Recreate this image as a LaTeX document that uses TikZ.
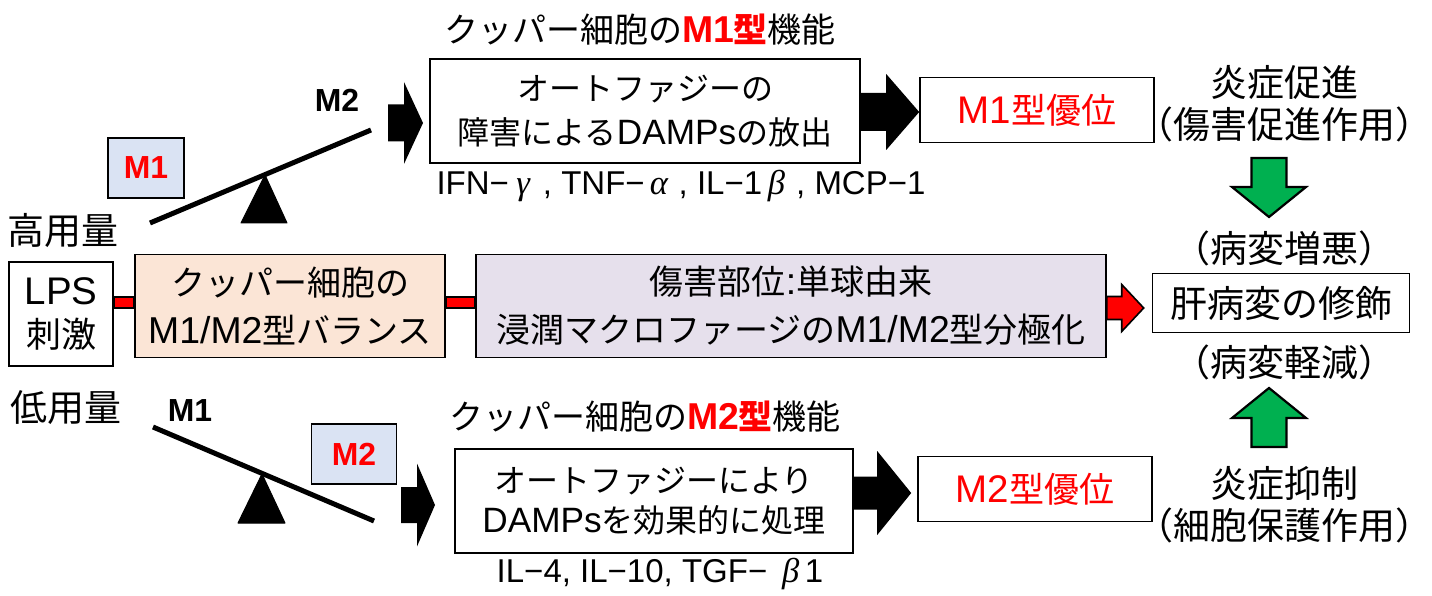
\documentclass[tikz,border=0pt]{standalone}
\usepackage{fontspec}
\setmainfont{Noto Sans CJK JP}
\newfontfamily\lt{Liberation Sans}[Scale=1.1]
\newfontfamily\grk{Liberation Serif}[Scale=1.15]
\usetikzlibrary{calc}
\definecolor{peach}{HTML}{FBE5D6}
\definecolor{lav}{HTML}{E6E0EC}
\definecolor{mfill}{HTML}{DAE3F3}
\definecolor{ogreen}{HTML}{00B050}
\definecolor{ored}{HTML}{FF0000}
% horizontal block arrow: style, from, tip, shaft half, head half, head length
\newcommand\harrow[6]{\path[#1] let \p1=(#2), \p2=(#3) in
  (\x1,\y1+#4pt) -- (\x2-#6pt,\y1+#4pt) -- (\x2-#6pt,\y1+#5pt) -- (\x2,\y1)
  -- (\x2-#6pt,\y1-#5pt) -- (\x2-#6pt,\y1-#4pt) -- (\x1,\y1-#4pt) -- cycle;}
% vertical block arrow pointing down (page)
\newcommand\darrow[6]{\path[#1] let \p1=(#2), \p2=(#3) in
  (\x1-#4pt,\y1) -- (\x1-#4pt,\y2+#6pt) -- (\x1-#5pt,\y2+#6pt) -- (\x1,\y2)
  -- (\x1+#5pt,\y2+#6pt) -- (\x1+#4pt,\y2+#6pt) -- (\x1+#4pt,\y1) -- cycle;}
% vertical block arrow pointing up (page)
\newcommand\uarrow[6]{\path[#1] let \p1=(#2), \p2=(#3) in
  (\x1-#4pt,\y1) -- (\x1-#4pt,\y2-#6pt) -- (\x1-#5pt,\y2-#6pt) -- (\x1,\y2)
  -- (\x1+#5pt,\y2-#6pt) -- (\x1+#4pt,\y2-#6pt) -- (\x1+#4pt,\y1) -- cycle;}
\newcommand\gk[1]{\makebox[0.95em]{\grk\itshape #1}}
\tikzset{
  txt/.style={inner sep=0pt, font=\fontsize{32}{42}\selectfont},
  bigtxt/.style={inner sep=0pt, font=\fontsize{37}{42}\selectfont},
  titletxt/.style={inner sep=0pt, font=\fontsize{34}{42}\selectfont},
  cytotxt/.style={inner sep=0pt, font=\fontsize{30}{36}\selectfont},
  boxed/.style={txt, draw, line width=1.6pt, align=center},
  mlabel/.style={inner sep=0pt, font=\fontsize{29}{36}\selectfont\lt\bfseries},
  mbox/.style={draw, line width=1.6pt, fill=mfill, text=ored, inner sep=0pt,
     font=\fontsize{29}{36}\selectfont\lt\bfseries},
  blackarrow/.style={fill=black},
  redarrow/.style={fill=ored, draw=black, line width=1.6pt, line join=miter},
  greenarrow/.style={fill=ogreen, draw=black, line width=2.2pt, line join=miter},
  redbar/.style={fill=ored, draw=black, line width=2pt},
  beam/.style={line width=5pt},
  fulcrum/.style={fill=black, draw=black, line width=1pt, line join=round},
}
\begin{document}
\begin{tikzpicture}[x=1pt, y=-1pt]
\useasboundingbox (0,0) rectangle (1432,596);
% ---------- top row ----------
\node[titletxt] (title1) at (640,30) {クッパー細胞の{\color{ored}\bfseries{\lt M1}型}機能};
\node[mlabel] (m2top) at (337,100) {M2};
\node[mbox, minimum width=76pt, minimum height=60pt] (m1box) at (146,168) {M1};
\node[bigtxt] (high) at (63,231) {高用量};
\node[boxed, minimum width=430pt, minimum height=104pt, font=\fontsize{32}{44}\selectfont] (box1) at (645,111)
  {オートファジーの\\障害による{\lt DAMPs}の放出};
\node[cytotxt] (cyto1) at (681,186)
  {{\lt IFN−}\gk{γ}{\lt\,,\ TNF−}\gk{α}{\lt\,,\ IL−1}\gk{β}{\lt\,,\ MCP−1}};
\node[boxed, minimum width=234pt, minimum height=65pt, text=ored, font=\fontsize{35}{42}\selectfont] (m1dom) at (1037,110) {{\lt M1}型優位};
% seesaw (high dose)
\coordinate (b1l) at (150,223);
\coordinate (b1r) at (371,130);
\draw[beam] (b1l) -- (b1r);
\filldraw[fulcrum] (265,175) -- (287,223) -- (241,223) -- cycle;
% arrows
\coordinate (a1s) at (388,123);
\coordinate (a1t) at (423,123);
\harrow{blackarrow}{a1s}{a1t}{18.5}{41}{19}
\coordinate (a2s) at ($(box1.east)+(0,1)$);
\coordinate (a2t) at ($(m1dom.west)+(0,2)$);
\harrow{blackarrow}{a2s}{a2t}{19}{38}{33}
% ---------- right column ----------
\node[bigtxt] (promote) at (1284,82) {炎症促進};
\node[bigtxt] (promote2) at (1284,124) {（傷害促進作用）};
\node[bigtxt] (worse) at (1284,248) {（病変増悪）};
\node[boxed, minimum width=257pt, minimum height=59pt, font=\fontsize{37}{42}\selectfont] (liver) at (1281,303) {肝病変の修飾};
\node[bigtxt] (better) at (1284,362) {（病変軽減）};
\node[bigtxt] (suppress) at (1284,483) {炎症抑制};
\node[bigtxt] (protect) at (1284,525) {（細胞保護作用）};
\coordinate (g1s) at (1269,158);
\coordinate (g1t) at (1269,217);
\darrow{greenarrow}{g1s}{g1t}{17.5}{37}{30}
\coordinate (g2s) at (1269,447);
\coordinate (g2t) at (1269,388);
\uarrow{greenarrow}{g2s}{g2t}{17.5}{37}{30}
% ---------- middle row ----------
\node[boxed, minimum width=104pt, minimum height=104pt, font=\fontsize{35}{43}\selectfont] (lps) at (61,314) {{\lt LPS}\\刺激};
\node[boxed, fill=peach, minimum width=310pt, minimum height=103pt, font=\fontsize{34}{48}\selectfont] (bal) at (290,306)
  {クッパー細胞の\\{\lt M1/M2}型バランス};
\node[boxed, fill=lav, minimum width=630pt, minimum height=103pt, font=\fontsize{34}{48}\selectfont] (pol) at (791,306)
  {傷害部位{\lt :}単球由来\\浸潤マクロファージの{\lt M1/M2}型分極化};
\draw[redbar] ([yshift=9.5pt]lps.east |- bal.center) rectangle ([yshift=-2pt]bal.west);
\draw[redbar] ([yshift=9.5pt]bal.east) rectangle ([yshift=-2pt]pol.west);
\coordinate (rs) at ($(pol.east)+(0,2)$);
\coordinate (rt) at ($(liver.west)+(-8,6)$);
\harrow{redarrow}{rs}{rt}{11.5}{23.5}{22}
% ---------- bottom row ----------
\node[bigtxt] (low) at (66,408) {低用量};
\node[mlabel] (m1low) at (190,411) {M1};
\node[mbox, minimum width=85pt, minimum height=60pt] (m2box) at (354,454) {M2};
\coordinate (b2l) at (153,427);
\coordinate (b2r) at (374,521);
\draw[beam] (b2l) -- (b2r);
\filldraw[fulcrum] (262,474) -- (285,523) -- (238,523) -- cycle;
\node[titletxt] (title2) at (645,417) {クッパー細胞の{\color{ored}\bfseries{\lt M2}型}機能};
\node[boxed, minimum width=398pt, minimum height=104pt, font=\fontsize{32}{40}\selectfont] (box2) at (654,501)
  {オートファジーにより\\{\lt DAMPs}を効果的に処理};
\node[cytotxt] (cyto2) at (660,574) {{\lt IL−4, IL−10, TGF−\ }\gk{β}{\lt 1}};
\node[boxed, minimum width=234pt, minimum height=65pt, text=ored, font=\fontsize{35}{42}\selectfont] (m2dom) at (1035,489) {{\lt M2}型優位};
\coordinate (a3s) at (401,505);
\coordinate (a3t) at (435,505);
\harrow{blackarrow}{a3s}{a3t}{18}{41.5}{18}
\coordinate (a4s) at ($(box2.east)+(0,-8)$);
\coordinate (a4t) at ($(m2dom.west)+(-6,4)$);
\harrow{blackarrow}{a4s}{a4t}{16.5}{42}{34}
\end{tikzpicture}
\end{document}
